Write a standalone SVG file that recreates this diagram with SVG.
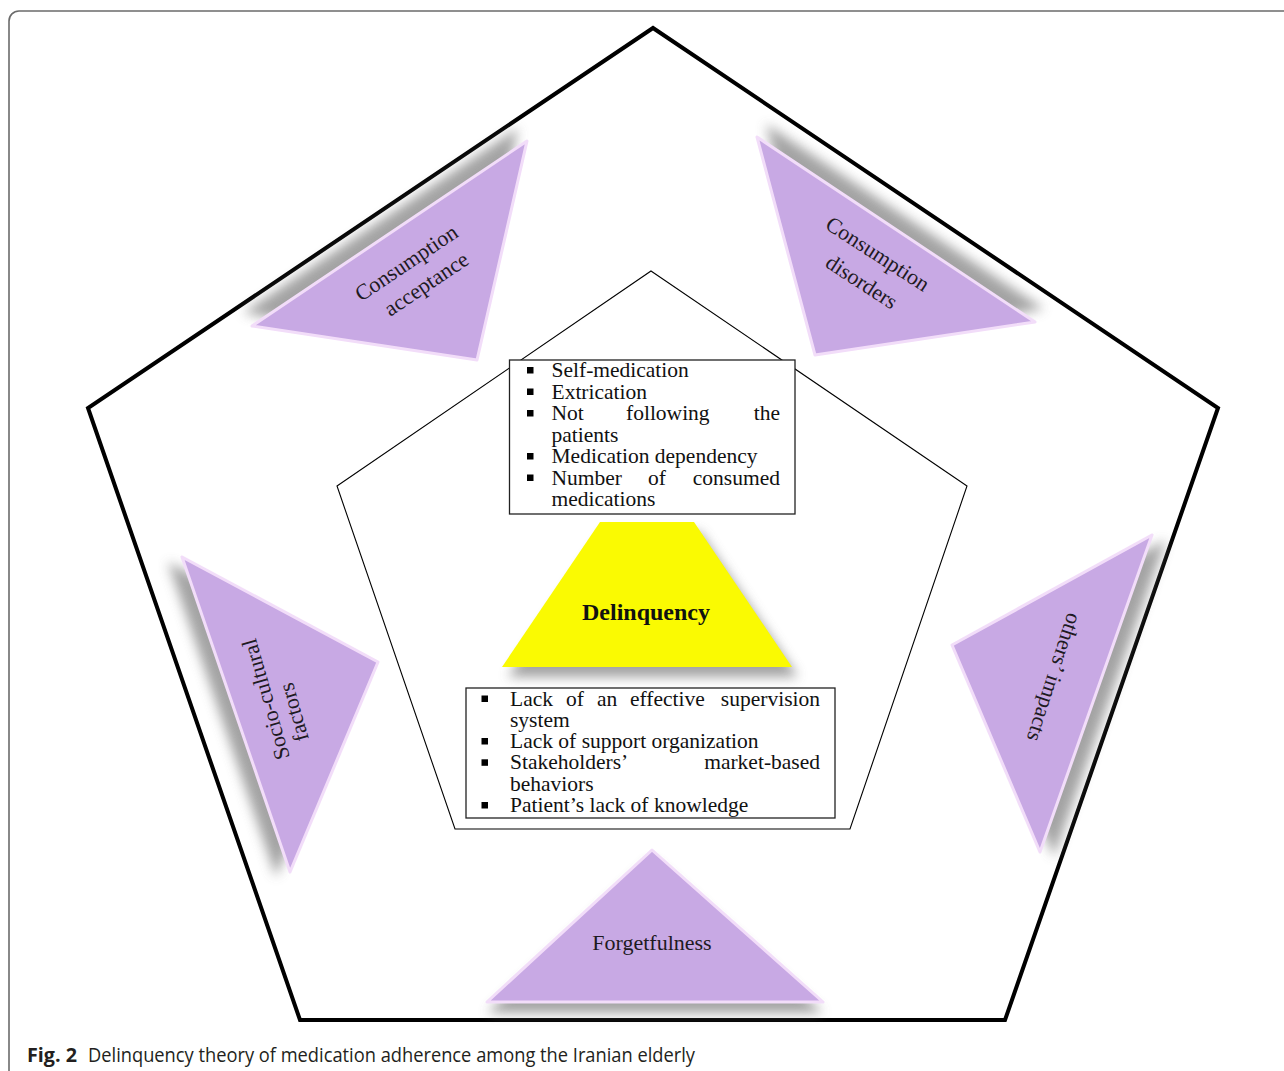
<svg xmlns="http://www.w3.org/2000/svg" width="1284" height="1071" viewBox="0 0 1284 1071">
<defs>
<filter id="blur" x="-20%" y="-20%" width="140%" height="140%"><feGaussianBlur stdDeviation="6"/></filter>
<style>
.frame{fill:none;stroke:#6b6b6b;stroke-width:1.6}
.outer{fill:none;stroke:#000;stroke-width:4;stroke-linejoin:miter}
.inner{fill:none;stroke:#000;stroke-width:1.1}
.tri{fill:#c8a9e4;stroke:#f2ddf9;stroke-width:3;stroke-linejoin:round}
.shadow{fill:#8c8c8c;opacity:0.8;filter:url(#blur)}
.trap{fill:#fafa02}
.box{fill:#fff;stroke:#222;stroke-width:1.3}
.lbl{font-family:"Liberation Serif","Times New Roman",serif;font-size:22px;fill:#1e1a22;text-anchor:middle}
.bt{font-family:"Liberation Serif","Times New Roman",serif;font-size:21.5px;fill:#111}
.end{text-anchor:end}
.bul{fill:#000}
.cap{font-family:"Open Sans","Liberation Sans",sans-serif;font-size:20px;fill:#231f20}
</style>
</defs>
<rect width="1284" height="1071" fill="#fff"/>
<path class="frame" d="M9,1071 V21 A10,10 0 0 1 19,11 H1284"/>

<g id="frames">
<polygon class="outer" points="653,28 1218,408 1005,1020 300,1020 88,408"/>
<polygon class="inner" points="651,271 967,486 850,829 455,829 337,486"/>
</g>

<g id="connectors"></g>

<g id="consumption-acceptance">
<polygon class="shadow" points="252,326 527,141 477,360" transform="translate(-9,-13)"/>
<polygon class="tri" points="252,326 527,141 477,360"/>
<text class="lbl" transform="translate(407,264) rotate(-34)" y="6">Consumption</text>
<text class="lbl" transform="translate(427,285) rotate(-34)" y="6">acceptance</text>
</g>

<g id="consumption-disorders">
<polygon class="shadow" points="757,137 1035,322 815,355" transform="translate(9,-13)"/>
<polygon class="tri" points="757,137 1035,322 815,355"/>
<text class="lbl" transform="translate(877,255) rotate(33)" y="6">Consumption</text>
<text class="lbl" transform="translate(861,283) rotate(33)" y="6">disorders</text>
</g>

<g id="socio-cultural-factors">
<polygon class="shadow" points="182,557 378,662 290,872" transform="translate(-14,5)"/>
<polygon class="tri" points="182,557 378,662 290,872"/>
<text class="lbl" transform="translate(267,699) rotate(-106)" y="6">Socio-cultural</text>
<text class="lbl" transform="translate(295,712) rotate(-106)" y="6">factors</text>
</g>

<g id="others-impacts">
<polygon class="shadow" points="1152,535 952,645 1040,852" transform="translate(14,5)"/>
<polygon class="tri" points="1152,535 952,645 1040,852"/>
<text class="lbl" transform="translate(1053,677) rotate(108)" y="6">others’ impacts</text>
</g>

<g id="forgetfulness">
<polygon class="shadow" points="652,850 823,1002 487,1002" transform="translate(0,11)"/>
<polygon class="tri" points="652,850 823,1002 487,1002"/>
<text class="lbl" x="652" y="950">Forgetfulness</text>
</g>

<g id="delinquency">
<polygon class="shadow" points="600,522 694,522 792,667 502,667" transform="translate(6,10)"/>
<polygon class="trap" points="600,522 694,522 792,667 502,667"/>
<text x="646" y="620" style="font-family:'Liberation Serif','Times New Roman',serif;font-size:24px;font-weight:bold;fill:#111;text-anchor:middle">Delinquency</text>
</g>

<g id="top-box">
<rect class="box" x="509.5" y="360" width="285.5" height="154"/>
<rect class="bul" x="527" y="367" width="6.5" height="6.5"/>
<text class="bt" x="551.5" y="377">Self-medication</text>
<rect class="bul" x="527" y="388.5" width="6.5" height="6.5"/>
<text class="bt" x="551.5" y="398.5">Extrication</text>
<rect class="bul" x="527" y="410" width="6.5" height="6.5"/>
<text class="bt" x="551.5" y="420">Not</text>
<text class="bt" x="626" y="420">following</text>
<text class="bt end" x="780" y="420">the</text>
<text class="bt" x="551.5" y="441.5">patients</text>
<rect class="bul" x="527" y="453" width="6.5" height="6.5"/>
<text class="bt" x="551.5" y="463">Medication dependency</text>
<rect class="bul" x="527" y="474.5" width="6.5" height="6.5"/>
<text class="bt" x="551.5" y="484.5">Number</text>
<text class="bt" x="648" y="484.5">of</text>
<text class="bt end" x="780" y="484.5">consumed</text>
<text class="bt" x="551.5" y="506">medications</text>
</g>

<g id="bottom-box">
<rect class="box" x="466" y="688" width="369" height="130"/>
<rect class="bul" x="481.5" y="695.5" width="6.5" height="6.5"/>
<text class="bt" x="510" y="705.5">Lack</text>
<text class="bt" x="566" y="705.5">of</text>
<text class="bt" x="597" y="705.5">an</text>
<text class="bt" x="630" y="705.5">effective</text>
<text class="bt end" x="820" y="705.5">supervision</text>
<text class="bt" x="510" y="726.8">system</text>
<rect class="bul" x="481.5" y="738" width="6.5" height="6.5"/>
<text class="bt" x="510" y="748.1">Lack of support organization</text>
<rect class="bul" x="481.5" y="759.3" width="6.5" height="6.5"/>
<text class="bt" x="510" y="769.4">Stakeholders’</text>
<text class="bt end" x="820" y="769.4">market-based</text>
<text class="bt" x="510" y="790.7">behaviors</text>
<rect class="bul" x="481.5" y="802" width="6.5" height="6.5"/>
<text class="bt" x="510" y="812">Patient’s lack of knowledge</text>
</g>

<g id="caption">
<text class="cap" x="27" y="1062" font-weight="bold" textLength="50" lengthAdjust="spacingAndGlyphs">Fig. 2</text>
<text class="cap" x="88" y="1062" textLength="607" lengthAdjust="spacingAndGlyphs">Delinquency theory of medication adherence among the Iranian elderly</text>
</g>
</svg>
